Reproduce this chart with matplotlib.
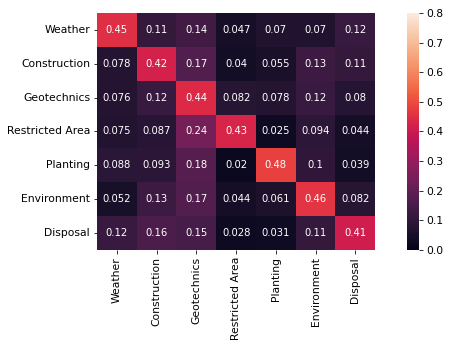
import matplotlib
matplotlib.use('Agg')
import matplotlib.pyplot as plt
import seaborn as sns
import numpy as np

labels = ['Weather', 'Construction', 'Geotechnics', 'Restricted Area',
          'Planting', 'Environment', 'Disposal']

weather = [0.45, 0.11, 0.14, 0.047, 0.07, 0.07, 0.12]
construction = [0.078, 0.42, 0.17, 0.04, 0.055, 0.13, 0.11]
geotechnics = [0.076, 0.12, 0.44, 0.082, 0.078, 0.12, 0.08]
restricted = [0.075, 0.087, 0.24, 0.43, 0.025, 0.094, 0.044]
planting = [0.088, 0.093, 0.18, 0.02, 0.48, 0.1, 0.039]
environment = [0.052, 0.13, 0.17, 0.044, 0.061, 0.46, 0.082]
disposal = [0.12, 0.16, 0.15, 0.028, 0.031, 0.11, 0.41]

matrix = np.array([weather, construction, geotechnics, restricted,
                   planting, environment, disposal])

fig = plt.figure(figsize=(450 / 72, 345 / 72), dpi=72)
ax = fig.add_axes([0.2156, 0.2754, 0.618, 0.687])
cax = fig.add_axes([0.904, 0.2754, 0.027, 0.687])

sns.heatmap(matrix, annot=True, vmin=0, vmax=0.8, ax=ax, cbar_ax=cax,
            xticklabels=labels, yticklabels=labels,
            annot_kws={'fontsize': 10})
ax.set_yticklabels(labels, rotation=0, fontsize=10.8)
ax.set_xticklabels(labels, rotation=90, fontsize=10.8)
cax.tick_params(labelsize=10.8)

plt.savefig('out.png', dpi=72)
